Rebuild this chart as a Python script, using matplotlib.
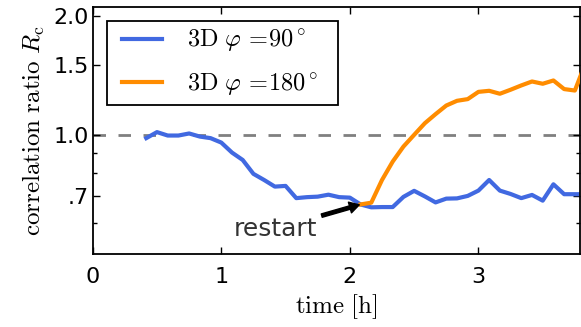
import numpy as np
import matplotlib
matplotlib.use("Agg")
import matplotlib.pyplot as plt
from matplotlib.legend_handler import HandlerLine2D

plt.rcParams['mathtext.fontset'] = 'cm'
plt.rcParams['font.family'] = ['DejaVu Sans']

# time in hours, 5 min sampling
t_start = 5 / 12
n_pts = 42
time_h = [t_start + i / 12 for i in range(n_pts)]

blue_90 = [0.981, 1.016, 0.996, 0.996, 1.008, 0.990, 0.981, 0.956, 0.902, 0.864,
           0.797, 0.769, 0.740, 0.743, 0.692, 0.696, 0.698, 0.706, 0.696, 0.694,
           0.667, 0.656, 0.657, 0.657, 0.697, 0.722, 0.699, 0.675, 0.690, 0.691,
           0.701, 0.723, 0.769, 0.723, 0.709, 0.692, 0.705, 0.682, 0.750, 0.708,
           0.708, 0.708]

restart_idx = 20
orange_180 = [0.667, 0.674, 0.769, 0.856, 0.934, 1.000, 1.070, 1.128, 1.186, 1.219,
              1.231, 1.284, 1.292, 1.270, 1.300, 1.333, 1.364, 1.346, 1.372, 1.305,
              1.294, 1.52]

label_90 = r'$\mathrm{3D}\ \varphi\,=\!90^\circ$'
label_180 = r'$\mathrm{3D}\ \varphi\,=\!180^\circ$'

yticks = [0.7, 1.0, 1.5, 2.0]
yticklabels = ['.7', '1.0', '1.5', '2.0']
yminor = [0.6, 0.8, 0.9]
xticks = [0, 1, 2, 3]


class PadLine(HandlerLine2D):
    """Line handle with extra empty space on its left (in points)."""
    def __init__(self, lpad, **kw):
        super().__init__(**kw)
        self.lpad = lpad

    def get_xdata(self, legend, xdescent, ydescent, width, height, fontsize):
        return ([-xdescent + self.lpad, -xdescent + width],
                [-xdescent + 0.5 * width])


W, H = 581, 327
fig = plt.figure(figsize=(W / 100, H / 100), dpi=100)
ax_w, ax_h = 580 - 92.7, 254 - 7.3
ax = fig.add_axes([92.7 / W, (H - 254) / H, ax_w / W, ax_h / H])

ax.axhline(1.0, color='gray', lw=2, dashes=(4.5, 4.5), zorder=1)
l1, = ax.plot(time_h, blue_90, color='#4169E1', lw=3, label=label_90, zorder=2)
l2, = ax.plot(time_h[restart_idx:], orange_180, color='#FF8C00', lw=3, label=label_180, zorder=3)

ax.set_yscale('log')
ax.set_ylim(0.5, 2.1)
ax.set_xlim(0, 3.79)
ax.set_yticks(yticks)
ax.set_yticklabels(yticklabels)
ax.set_yticks(yminor, minor=True)
ax.yaxis.set_minor_formatter(matplotlib.ticker.NullFormatter())
ax.set_xticks(xticks)
ax.set_xticklabels([str(v) for v in xticks])

ax.tick_params(which='both', direction='in', top=True, right=True, labelsize=16, width=1, color='black')
ax.tick_params(which='major', length=5)
ax.tick_params(which='minor', length=3)
ax.tick_params(axis='y', which='both', pad=2.5)
ax.tick_params(axis='x', which='both', pad=9.5)
for s in ax.spines.values():
    s.set_linewidth(1.3)

ax.set_xlabel(r'$\mathrm{time\ [h]}$', fontsize=18, labelpad=3.5)
ax.set_ylabel(r'$\mathrm{correlation\ ratio}\ R_\mathrm{c}$', fontsize=18, labelpad=5)

fs = 17.5
fs_px = fs * 100 / 72
leg_x0 = 14 / ax_w
leg_top = 1 - 13.7 / ax_h
leg_w = (338.3 - 106.7) / ax_w
leg = ax.legend(handles=[l1, l2], loc='upper left',
                bbox_to_anchor=(leg_x0, 0.4, leg_w, leg_top - 0.4), mode='expand',
                borderaxespad=0, fontsize=fs,
                handlelength=(162.3 - 113.7) / fs_px, handletextpad=1.0,
                labelspacing=0.72, borderpad=7 / fs_px, fancybox=False, framealpha=1,
                handler_map={l1: PadLine(8 * 72 / 100), l2: PadLine(8 * 72 / 100)})
leg.get_frame().set_edgecolor('black')
leg.get_frame().set_linewidth(1.3)
for h in leg.legend_handles:
    h.set_linewidth(3)

ax.annotate('restart', xy=(time_h[restart_idx], blue_90[restart_idx]),
            xytext=(1.425, 0.579), textcoords='data', ha='center', va='center',
            fontsize=18, color='#333333',
            arrowprops=dict(facecolor='black', edgecolor='black', width=2.5,
                            headwidth=8, headlength=7, shrink=0.03))

fig.savefig('out.png', dpi=100)
